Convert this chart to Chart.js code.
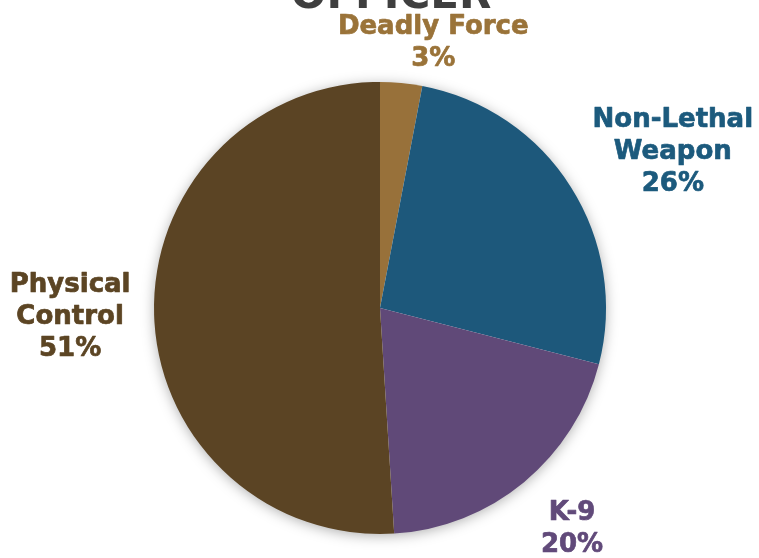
<!DOCTYPE html>
<html>
<head>
<meta charset="utf-8">
<script src="https://cdn.jsdelivr.net/npm/chart.js@4.4.0/dist/chart.umd.min.js"></script>
<style>
    html, body { margin: 0; padding: 0; background: #fff; }
    #wrap { width: 759px; height: 558px; }
</style>
</head>
<body>
<div id="wrap"><canvas id="forceChart" width="759" height="558"></canvas></div>
<script>
// 数据
var categories = ['Deadly Force', 'Non-Lethal Weapon', 'K-9', 'Physical Control'];
var labelLines = [['Deadly Force'], ['Non-Lethal', 'Weapon'], ['K-9'], ['Physical', 'Control']];
var shares = [3, 26, 20, 51];
var sliceColors = ['#98713a', '#1d587b', '#604978', '#5b4424'];
var textColors = ['#9a7339', '#1c5a7d', '#614a7a', '#5c4524'];

// 标签相对扇区外缘中点的偏移
var labelOffsets = [[32, -40], [102, -35], [48, 47], [-84, 2]];

// 饼图阴影
var shadowPlugin = {
    id: 'pieShadow',
    beforeDatasetsDraw: function(chart) {
        var arc = chart.getDatasetMeta(0).data[0];
        if (!arc) return;
        var p = arc.getProps(['x', 'y', 'outerRadius'], true);
        var ctx = chart.ctx;
        ctx.save();
        ctx.shadowColor = 'rgba(0, 0, 0, 0.35)';
        ctx.shadowBlur = 14;
        ctx.shadowOffsetY = 2;
        ctx.fillStyle = '#ffffff';
        ctx.beginPath();
        ctx.arc(p.x, p.y, p.outerRadius - 1, 0, Math.PI * 2);
        ctx.fill();
        ctx.restore();
    }
};

// 外部标签和标题
var outsideLabelPlugin = {
    id: 'outsideLabels',
    afterDatasetsDraw: function(chart) {
        var ctx = chart.ctx;
        var meta = chart.getDatasetMeta(0);
        var total = shares.reduce(function(a, b) { return a + b; }, 0);
        ctx.save();
        ctx.textAlign = 'center';
        ctx.textBaseline = 'middle';
        ctx.font = 'bold 26px "DejaVu Sans", Verdana, sans-serif';
        ctx.lineWidth = 0.7;
        ctx.lineJoin = 'round';
        meta.data.forEach(function(arc, i) {
            var p = arc.getProps(['x', 'y', 'startAngle', 'endAngle', 'outerRadius'], true);
            var mid = (p.startAngle + p.endAngle) / 2;
            var ex = p.x + Math.cos(mid) * p.outerRadius + labelOffsets[i][0];
            var ey = p.y + Math.sin(mid) * p.outerRadius + labelOffsets[i][1];
            var lines = labelLines[i].concat([Math.round(shares[i] / total * 100) + '%']);
            var lineHeight = 32;
            var top = ey - (lines.length - 1) * lineHeight / 2;
            ctx.fillStyle = textColors[i];
            ctx.strokeStyle = textColors[i];
            lines.forEach(function(txt, j) {
                ctx.fillText(txt, ex, top + j * lineHeight);
                ctx.strokeText(txt, ex, top + j * lineHeight);
            });
        });

        // 标题（上半部分在画布之外）
        ctx.fillStyle = '#3f3f3f';
        ctx.textBaseline = 'alphabetic';
        ctx.font = 'bold 42px "DejaVu Sans", Verdana, sans-serif';
        ctx.fillText('OFFICER', 391, 8);
        ctx.restore();
    }
};

var ctx = document.getElementById('forceChart').getContext('2d');
var forceChart = new Chart(ctx, {
    type: 'pie',
    data: {
        labels: categories,
        datasets: [{
            data: shares,
            backgroundColor: sliceColors,
            borderWidth: 0,
            hoverOffset: 0,
            offset: 0
        }]
    },
    options: {
        responsive: false,
        animation: false,
        layout: {
            padding: { top: 82, bottom: 24, left: 1, right: 0 }
        },
        plugins: {
            legend: { display: false },
            tooltip: { enabled: false }
        }
    },
    plugins: [shadowPlugin, outsideLabelPlugin]
});
</script>
</body>
</html>
